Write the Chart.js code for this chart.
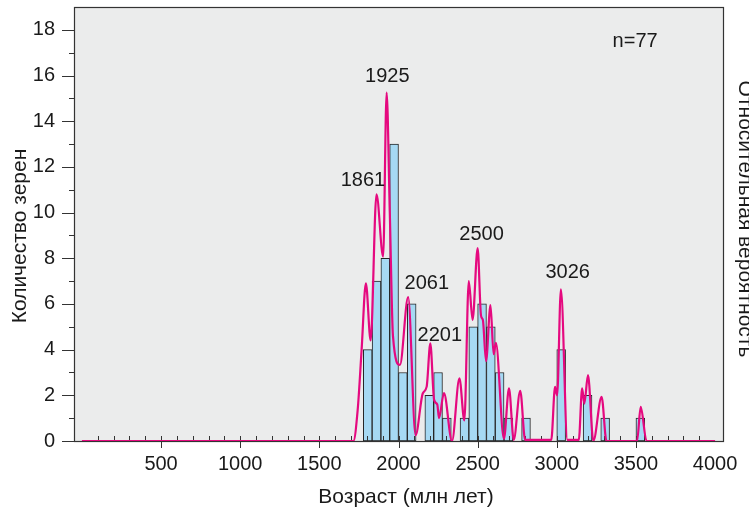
<!DOCTYPE html>
<html>
<head>
<meta charset="utf-8">
<script src="https://cdn.jsdelivr.net/npm/chart.js@4.4.0/dist/chart.umd.min.js"></script>
<style>
  html, body { margin: 0; padding: 0; background: #fff; }
  #wrap { width: 749px; height: 511px; }
</style>
</head>
<body>
<div id="wrap"><canvas id="ageChart" width="749" height="511"></canvas></div>
<script>
// Histogram: start of each bin (млн лет) and number of grains in it
const binWidth = 4000 / 72;
const binStarts = [1777.8, 1833.3, 1888.9, 1944.4, 2000, 2055.6, 2111.1, 2166.7, 2222.2, 2277.8,
  2333.3, 2388.9, 2444.4, 2500, 2555.6, 2611.1, 2666.7, 2722.2, 2777.8, 2833.3,
  2888.9, 2944.4, 3000, 3055.6, 3111.1, 3166.7, 3222.2, 3277.8, 3333.3, 3388.9,
  3444.4, 3500];
const binCounts = [4, 7, 8, 13, 3, 6, 0, 2, 3, 1,
  0, 1, 5, 6, 5, 3, 1, 0, 1, 0,
  0, 0, 4, 0, 0, 2, 0, 1, 0, 0,
  0, 1];

// Relative probability curve (peaks and troughs, in count units)
const curveAges = [0, 1715, 1742, 1767, 1794, 1824, 1861, 1903, 1925, 1945,
  1965, 2009, 2061, 2108, 2153, 2178, 2201, 2225, 2245, 2256,
  2287, 2338, 2385, 2416, 2444, 2468, 2500, 2521, 2533, 2553,
  2581, 2601, 2615, 2666, 2698, 2728, 2769, 2800, 2965, 2989,
  3002, 3026, 3067, 3139, 3160, 3174, 3197, 3231, 3283, 3314,
  3507, 3530, 3567, 4000];
const curveValues = [0, 0, 1.35, 4.0, 6.9, 4.4, 10.8, 8.07, 15.25, 10,
  4.6, 3.33, 6.3, 0.25, 2.08, 2.38, 4.27, 1.8, 1.6, 1.0,
  2.1, 0, 2.74, 0.9, 7.0, 5.3, 8.44, 5.5, 5.3, 3.5,
  5.95, 3.8, 4.3, 0.1, 2.3, 0.05, 2.2, 0.05, 0.05, 2.37,
  2.0, 6.64, 0.05, 0.05, 2.3, 1.64, 2.88, 0, 1.93, 0,
  0, 1.49, 0, 0];

// Peak labels and where they sit (age, count level)
const peakLabels = ['1861', '1925', '2061', '2201', '2500', '3026', 'n=77'];
const peakLabelAges = [1775, 1929, 2179, 2261, 2525, 3069, 3495];
const peakLabelLevels = [11.39, 15.94, 6.91, 4.64, 9.05, 7.37, 17.48];

const FONT = "'Liberation Sans', Arial, sans-serif";
const TEXT = '#1a1a1a';

const histData = [];
binStarts.forEach((s, i) => {
  if (binCounts[i] > 0) histData.push({ x: s + binWidth / 2, y: binCounts[i] });
});
const curveData = curveAges.map((a, i) => ({ x: a, y: curveValues[i] }));

// Background, frame, ticks and text
const decorations = {
  id: 'decorations',
  beforeDatasetsDraw(chart) {
    const { ctx, chartArea: a } = chart;
    ctx.save();
    ctx.fillStyle = '#ebecec';
    ctx.fillRect(a.left, a.top, a.right - a.left, a.bottom - a.top);
    ctx.restore();
  },
  beforeDatasetDraw(chart, args) {
    if (args.index !== 0) return;
    const { ctx, chartArea: a, scales: { x, y } } = chart;
    ctx.save();
    ctx.strokeStyle = '#333';
    ctx.lineWidth = 1.2;
    ctx.strokeRect(a.left + 0.5, a.top + 0.5, a.right - a.left, a.bottom - a.top);
    ctx.lineWidth = 1;
    ctx.beginPath();
    for (let v = 100; v < 4000; v += 100) {
      const px = Math.round(x.getPixelForValue(v)) + 0.5;
      ctx.moveTo(px, a.bottom);
      ctx.lineTo(px, a.bottom - 5);
      if (v % 500 === 0) {
        ctx.moveTo(px, a.bottom);
        ctx.lineTo(px, a.bottom + 7);
      }
    }
    for (let v = 0; v <= 18; v++) {
      const py = Math.round(y.getPixelForValue(v)) + 0.5;
      ctx.moveTo(a.left, py);
      ctx.lineTo(a.left - (v % 2 === 0 ? 12 : 5), py);
    }
    ctx.stroke();
    ctx.restore();
  },
  afterDraw(chart) {
    const { ctx, scales: { x, y } } = chart;
    ctx.save();
    ctx.fillStyle = TEXT;
    ctx.font = '20px ' + FONT;
    ctx.textAlign = 'center';
    ctx.textBaseline = 'middle';
    peakLabels.forEach((t, i) => {
      ctx.fillText(t, x.getPixelForValue(peakLabelAges[i]), y.getPixelForValue(peakLabelLevels[i]));
    });

    ctx.font = '21px ' + FONT;
    ctx.textBaseline = 'alphabetic';
    ctx.fillText('Возраст (млн лет)', 406, 503);

    ctx.save();
    ctx.translate(26, 236);
    ctx.rotate(-Math.PI / 2);
    ctx.fillText('Количество зерен', 0, 0);
    ctx.restore();

    ctx.save();
    ctx.translate(739, 219);
    ctx.rotate(Math.PI / 2);
    ctx.fillText('Относительная вероятность', 0, 0);
    ctx.restore();
    ctx.restore();
  }
};

const ctx = document.getElementById('ageChart').getContext('2d');
const ageChart = new Chart(ctx, {
  type: 'bar',
  data: {
    datasets: [{
      type: 'line',
      data: curveData,
      borderColor: '#e5097f',
      borderWidth: 2.2,
      pointRadius: 0,
      cubicInterpolationMode: 'monotone',
      fill: false
    }, {
      type: 'bar',
      data: histData,
      backgroundColor: '#a6d9f3',
      borderColor: '#262626',
      borderWidth: 1,
      borderSkipped: false,
      barPercentage: 1,
      categoryPercentage: 1
    }]
  },
  options: {
    responsive: false,
    animation: false,
    layout: { padding: { top: 7, right: 26, left: 0, bottom: 0 } },
    plugins: { legend: { display: false }, tooltip: { enabled: false } },
    scales: {
      x: {
        type: 'linear',
        min: 0,
        max: 4000,
        grid: { display: false, drawTicks: false },
        border: { display: false },
        ticks: {
          stepSize: 100,
          autoSkip: false,
          maxRotation: 0,
          minRotation: 0,
          padding: 11,
          color: TEXT,
          font: { family: FONT, size: 20 },
          callback: v => (v > 0 && v % 500 === 0) ? String(v) : ''
        },
        afterFit: s => {
          s.height = 70;
          s.paddingLeft = 0;
          s.paddingRight = 0;
        }
      },
      y: {
        min: 0,
        max: 19,
        grid: { display: false, drawTicks: false },
        border: { display: false },
        ticks: {
          stepSize: 1,
          autoSkip: false,
          padding: 19,
          color: TEXT,
          font: { family: FONT, size: 20 },
          callback: v => (v % 2 === 0) ? String(v) : ''
        },
        afterFit: s => {
          s.width = 74;
          s.paddingTop = 0;
          s.paddingBottom = 0;
        }
      }
    }
  },
  plugins: [decorations]
});
</script>
</body>
</html>
